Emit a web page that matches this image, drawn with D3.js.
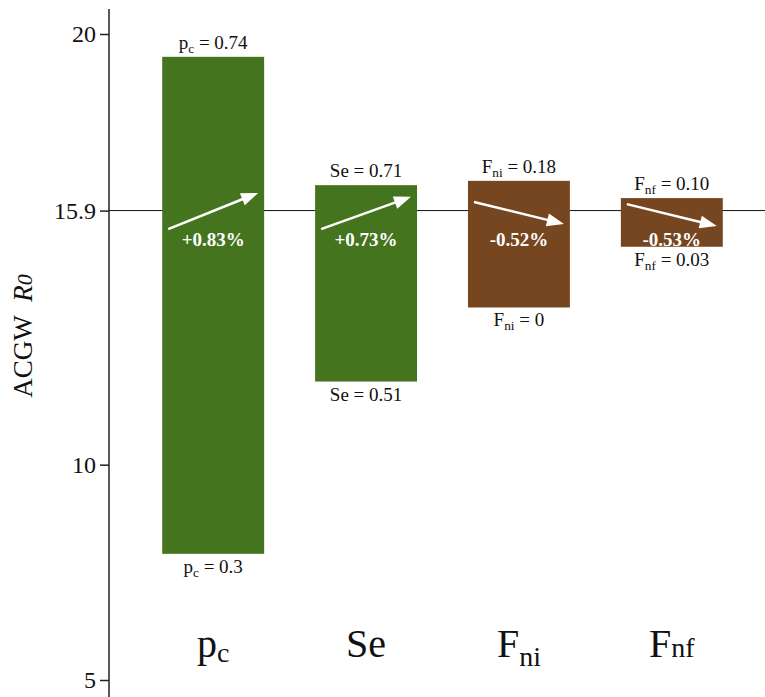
<!DOCTYPE html>
<html>
<head>
<meta charset="utf-8">
<script src="https://d3js.org/d3.v7.min.js"></script>
<style>
  body { margin: 0; background: #fff; }
  svg text { font-family: "Liberation Serif", "Times New Roman", Times, Tinos, "DejaVu Serif", serif !important; }
</style>
</head>
<body>
<div id="chart"></div>
<script>
// parameter names (main letter + subscript)
const paramMain = ["p", "Se", "F", "F"];
const paramSub = ["c", "", "ni", "nf"];
const categories = ["pc", "Se", "Fni", "Fnf"];

// R0 at the high / low end of each parameter range
const highR0 = [19.47, 16.49, 16.59, 16.19];
const lowR0 = [7.93, 11.93, 13.65, 15.06];
const highParam = ["0.74", "0.71", "0.18", "0.10"];
const lowParam = ["0.3", "0.51", "0", "0.03"];

// percent change and arrow direction (R0 at arrow tail / head)
const changes = ["+0.83%", "+0.73%", "-0.52%", "-0.53%"];
const arrowFrom = [15.47, 15.47, 16.10, 16.05];
const arrowTo = [16.31, 16.22, 15.59, 15.54];

const baseR0 = 15.9;
const yTicks = [5, 10, 15.9, 20];
const barColors = ["#45741f", "#45741f", "#754620", "#754620"];

const width = 765, height = 697;
const axisX = 109;
const serif = '"Liberation Serif", "Times New Roman", Times, Tinos, "DejaVu Serif", serif';

const svg = d3.select("#chart").append("svg")
    .attr("width", width)
    .attr("height", height)
    .attr("font-family", serif)
    .style("background", "#fff");

let y = d3.scaleLinear()
    .domain([5, 20])
    .range([680, 34]);

let x = d3.scaleBand()
    .domain(categories)
    .range([124, 761])
    .paddingInner(1 / 3)
    .paddingOuter(0.25);

let bw = x.bandwidth();

// baseline at 15.9
svg.append("line")
    .attr("x1", axisX).attr("x2", width)
    .attr("y1", y(baseR0)).attr("y2", y(baseR0))
    .attr("stroke", "#111")
    .attr("stroke-width", 1);

// y axis
let yAxis = svg.append("g")
    .attr("transform", `translate(${axisX}, 0)`)
    .call(d3.axisLeft(y).tickValues(yTicks).tickSize(9).tickPadding(4).tickFormat(d => d))
    .attr("font-family", serif);
yAxis.select(".domain").remove();
yAxis.selectAll(".tick line").attr("stroke", "#222").attr("stroke-width", 1.5);
yAxis.selectAll(".tick text")
    .attr("fill", "#111")
    .style("font-size", "24px");

svg.append("line")
    .attr("x1", axisX).attr("x2", axisX)
    .attr("y1", 9).attr("y2", height)
    .attr("stroke", "#222")
    .attr("stroke-width", 1.5);

// y axis title
let ytitle = svg.append("text")
    .attr("transform", "translate(32, 336) rotate(-90)")
    .attr("text-anchor", "middle")
    .attr("fill", "#111")
    .style("font-size", "27px");
ytitle.append("tspan").text("ACGW\u00a0\u00a0");
ytitle.append("tspan").style("font-style", "italic").text("R");
ytitle.append("tspan").style("font-style", "italic").style("font-size", "22px").text("0");

let idx = d3.range(categories.length);

// bars
svg.selectAll(".bars")
    .data(idx)
    .enter()
    .append("rect")
    .attr("class", "bars")
    .attr("x", i => x(categories[i]))
    .attr("y", i => y(highR0[i]))
    .attr("width", bw)
    .attr("height", i => y(lowR0[i]) - y(highR0[i]))
    .style("fill", i => barColors[i]);

// label with subscript helper
function paramLabel(sel, i, value, size) {
    sel.append("tspan").text(paramMain[i]);
    if (paramSub[i]) {
        sel.append("tspan").attr("dy", 4).style("font-size", (size * 0.7) + "px").text(paramSub[i]);
        sel.append("tspan").attr("dy", -4).text(" = " + value);
    } else {
        sel.append("tspan").text(" = " + value);
    }
}

idx.forEach(function (i) {
    let cx = x(categories[i]) + bw / 2;
    let top = svg.append("text")
        .attr("x", cx)
        .attr("y", y(highR0[i]) - 8)
        .attr("text-anchor", "middle")
        .attr("fill", "#111")
        .style("font-size", "19px");
    paramLabel(top, i, highParam[i], 19);

    let bot = svg.append("text")
        .attr("x", cx)
        .attr("y", y(lowR0[i]) + 19)
        .attr("text-anchor", "middle")
        .attr("fill", "#111")
        .style("font-size", "19px");
    paramLabel(bot, i, lowParam[i], 19);

    // percent label
    svg.append("text")
        .attr("x", cx)
        .attr("y", y(baseR0) + 35)
        .attr("text-anchor", "middle")
        .attr("fill", "#fff")
        .style("font-size", "19px")
        .style("font-weight", "bold")
        .text(changes[i]);

    // arrow
    let x1 = x(categories[i]) + 6, y1 = y(arrowFrom[i]);
    let x2 = x(categories[i]) + bw - 6, y2 = y(arrowTo[i]);
    let ang = Math.atan2(y2 - y1, x2 - x1);
    let headL = 17, headW = 6.5;
    let bx = x2 - headL * Math.cos(ang), by = y2 - headL * Math.sin(ang);
    svg.append("line")
        .attr("x1", x1).attr("y1", y1)
        .attr("x2", bx + 2 * Math.cos(ang)).attr("y2", by + 2 * Math.sin(ang))
        .attr("stroke", "#fff")
        .attr("stroke-width", 2.5);
    svg.append("polygon")
        .attr("points", [
            [x2, y2],
            [bx - headW * Math.sin(ang), by + headW * Math.cos(ang)],
            [bx + headW * Math.sin(ang), by - headW * Math.cos(ang)]
        ].map(p => p.join(",")).join(" "))
        .attr("fill", "#fff");

    // category label
    let cat = svg.append("text")
        .attr("x", cx)
        .attr("y", 657)
        .attr("text-anchor", "middle")
        .attr("fill", "#111")
        .style("font-size", "40px");
    cat.append("tspan").text(paramMain[i]);
    if (paramSub[i]) {
        let shift = categories[i] === "Fnf" ? 0 : (categories[i] === "Fni" ? 9 : 5);
        cat.append("tspan").attr("dy", shift).style("font-size", "28px").text(paramSub[i]);
    }
});
</script>
</body>
</html>
